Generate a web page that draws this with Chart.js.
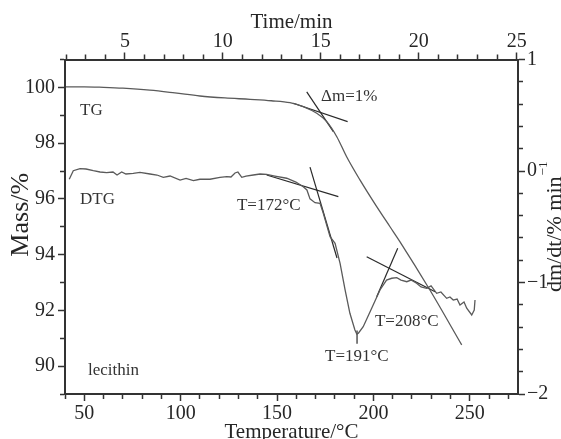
<!DOCTYPE html>
<html>
<head>
<meta charset="utf-8">
<script src="https://cdn.jsdelivr.net/npm/chart.js@4.4.1/dist/chart.umd.min.js"></script>
<style>
  html, body { margin: 0; padding: 0; background: #fff; }
  #wrap { width: 561px; height: 439px; position: relative; }
</style>
</head>
<body>
<div id="wrap"><canvas id="chart"></canvas></div>
<script>
// TG curve: temperature (°C) vs mass (%)
const tgTemp = [40.5, 50, 60, 70, 84, 97, 110, 123, 136, 147, 156.7, 163.6, 170.6, 175.8, 181, 186.1, 193, 201.7, 208.6, 213.8, 229.3, 245.8];
const tgMass = [100.02, 100.02, 100.0, 99.97, 99.9, 99.8, 99.69, 99.62, 99.57, 99.52, 99.45, 99.31, 99.07, 98.77, 98.23, 97.51, 96.68, 95.72, 95.0, 94.46, 92.73, 90.76];

// DTG curve: temperature (°C) vs dm/dt (%/min)
const dtgTemp = [42.2, 44.3, 47.8, 50.9, 54.7, 58.2, 61.6, 64.9, 67, 69.4, 71.6, 75.4, 78.9, 84.1, 87.7, 91, 94.5, 99.7, 102.8, 106.6,
  110, 115.2, 120.4, 123.9, 126.1, 128.2, 129.7, 131.7, 133.9, 137.7, 141.2, 144.6, 148.9, 155, 159.8, 163.6, 165.5, 167.1, 169.7, 172.3,
  174, 177.5, 180.1, 182.7, 185.3, 187.8, 190.4, 191.4, 192.2, 194.7, 199.1, 203.4, 206.8, 209.5, 212.1, 214.3, 217.3, 219.5, 222.4, 224.7,
  227.6, 229.9, 232.8, 235, 238, 239.7, 241.4, 243.4, 244.9, 247, 248.4, 251, 252.3, 252.7];
const dtgRate = [-0.074, 0.003, 0.021, 0.018, 0.003, -0.009, -0.015, -0.009, -0.036, -0.009, -0.027, -0.021, -0.013, -0.027, -0.036, -0.057, -0.045, -0.081, -0.067, -0.087,
  -0.074, -0.074, -0.057, -0.051, -0.054, -0.018, -0.009, -0.057, -0.045, -0.036, -0.027, -0.03, -0.045, -0.065, -0.099, -0.141, -0.17, -0.25, -0.284, -0.29,
  -0.379, -0.589, -0.648, -0.828, -1.067, -1.276, -1.426, -1.462, -1.455, -1.396, -1.231, -1.067, -0.978, -0.962, -0.957, -0.978, -0.993, -0.978, -1.007, -1.04,
  -1.052, -1.031, -1.097, -1.085, -1.142, -1.13, -1.157, -1.148, -1.202, -1.175, -1.231, -1.291, -1.247, -1.157];

// tangent construction lines (end points)
const tgFlatT = [158.4, 186.6], tgFlatM = [99.43, 98.77];
const tgSteepT = [165.4, 179.2], tgSteepM = [99.84, 98.41];
const onsetFlatT = [144.6, 181.8], onsetFlatR = [-0.036, -0.23];
const onsetSteepT = [167.1, 181.1], onsetSteepR = [0.035, -0.78];
const endRiseT = [201.7, 212.6], endRiseR = [-1.127, -0.693];
const endFlatT = [196.5, 232], endFlatR = [-0.769, -1.083];
const peakT = [191.5, 191.5], peakR = [-1.43, -1.55];

// axis ranges
const tempRange = [40, 275];
const timeRange = [1.94, 25.07];
const massRange = [89, 101];
const rateRange = [-2, 1];

// text notes: [text, temperature, value, axis]
const notes = [
  ['TG', 47.8, 99.01, 'y'],
  ['DTG', 47.8, 95.82, 'y'],
  ['lecithin', 51.9, 89.68, 'y'],
  ['\u0394m=1%', 172.8, 99.51, 'y'],
  ['T=172\u00b0C', 129.2, -0.35, 'y2'],
  ['T=191\u00b0C', 174.9, -1.704, 'y2'],
  ['T=208\u00b0C', 200.8, -1.39, 'y2']
];

const pts = (xs, ys) => xs.map((x, i) => ({ x: x, y: ys[i] }));
const FONT = "'Liberation Serif', 'Times New Roman', serif";
const INK = '#262626';
Chart.defaults.font.family = FONT;
Chart.defaults.color = INK;

function guide(xs, ys, axis) {
  return {
    data: pts(xs, ys), yAxisID: axis, showLine: true,
    borderColor: '#2a2a2a', borderWidth: 1.2, pointRadius: 0, tension: 0
  };
}

// minor ticks are shortened with a dash; top/left ticks are drawn from the outer end in
function tickDash(isMajor, fromOuter, len) {
  if (isMajor) return [];
  const minor = 4;
  return fromOuter ? [0, len - 1 - minor, minor + 2, 100] : [minor, 100];
}

// draws a rotated (bottom-to-top) title, with an optional superscript
function sideTitle(ctx, text, sup, x, y, size) {
  ctx.save();
  ctx.fillStyle = INK;
  ctx.textAlign = 'left';
  ctx.textBaseline = 'alphabetic';
  ctx.font = size + 'px ' + FONT;
  const w1 = ctx.measureText(text).width;
  ctx.font = '13px ' + FONT;
  const w2 = sup ? ctx.measureText(sup).width + 1 : 0;
  ctx.translate(x, y);
  ctx.rotate(-Math.PI / 2);
  const u = -(w1 + w2) / 2;
  ctx.font = size + 'px ' + FONT;
  ctx.fillText(text, u, 0);
  if (sup) {
    ctx.font = '13px ' + FONT;
    ctx.fillText(sup, u + w1 + 1, -14);
  }
  ctx.restore();
}

const notePlugin = {
  id: 'notes',
  afterDatasetsDraw(chart) {
    const ctx = chart.ctx;
    ctx.save();
    ctx.fillStyle = '#333';
    ctx.font = '17px ' + FONT;
    ctx.textAlign = 'left';
    ctx.textBaseline = 'alphabetic';
    notes.forEach(n => {
      const x = chart.scales.x.getPixelForValue(n[1]);
      const y = chart.scales[n[3]].getPixelForValue(n[2]);
      ctx.fillText(n[0], x, y);
    });
    ctx.restore();
  },
  afterDraw(chart) {
    const area = chart.chartArea;
    const mid = (area.top + area.bottom) / 2;
    sideTitle(chart.ctx, 'Mass/%', '', chart.scales.y.left + 28, mid - 12, 26);
    sideTitle(chart.ctx, 'dm/dt/% min', '\u22121', chart.scales.y2.right, mid, 22);
  }
};

const tickFont = { size: 20, family: FONT };
const titleFont = { size: 21, family: FONT, lineHeight: 1 };
const border = { color: '#333', width: 2 };

new Chart(document.getElementById('chart'), {
  type: 'scatter',
  data: {
    datasets: [
      { data: pts(tgTemp, tgMass), yAxisID: 'y', showLine: true, borderColor: '#5a5a5a', borderWidth: 1.3,
        pointRadius: 0, cubicInterpolationMode: 'monotone' },
      { data: pts(dtgTemp, dtgRate), yAxisID: 'y2', showLine: true, borderColor: '#5a5a5a', borderWidth: 1.3,
        pointRadius: 0, tension: 0 },
      guide(tgFlatT, tgFlatM, 'y'),
      guide(tgSteepT, tgSteepM, 'y'),
      guide(onsetFlatT, onsetFlatR, 'y2'),
      guide(onsetSteepT, onsetSteepR, 'y2'),
      guide(endRiseT, endRiseR, 'y2'),
      guide(endFlatT, endFlatR, 'y2'),
      guide(peakT, peakR, 'y2')
    ]
  },
  options: {
    responsive: true,
    maintainAspectRatio: false,
    animation: false,
    layout: { padding: 0 },
    plugins: { legend: { display: false }, tooltip: { enabled: false } },
    scales: {
      x: {
        type: 'linear', position: 'bottom', min: tempRange[0], max: tempRange[1],
        afterFit: s => { s.height = 45; },
        border: border,
        grid: { drawOnChartArea: false, tickLength: 7, tickColor: '#333', tickWidth: 1.5,
          tickBorderDash: c => tickDash(c.tick && c.tick.value % 50 === 0, false, 7) },
        ticks: { stepSize: 10, includeBounds: false, padding: 1, font: tickFont, color: INK, maxRotation: 0, autoSkip: false,
          callback: v => (v % 50 === 0 ? v : '') },
        title: { display: true, text: 'Temperature/\u00b0C', font: titleFont, color: INK, padding: { top: 0, bottom: -3.5 } }
      },
      top: {
        type: 'linear', axis: 'x', position: 'top', min: timeRange[0], max: timeRange[1],
        afterFit: s => { s.height = 59.5; },
        border: border,
        grid: { drawOnChartArea: false, tickLength: 7, tickColor: '#333', tickWidth: 1.5,
          tickBorderDash: c => tickDash(c.tick && Math.round(c.tick.value) % 5 === 0, true, 7) },
        ticks: { stepSize: 1, includeBounds: false, padding: -1, font: tickFont, color: INK, maxRotation: 0, autoSkip: false,
          callback: v => (Math.abs(v % 5) < 1e-6 ? v : '') },
        title: { display: true, text: 'Time/min', font: titleFont, color: INK, padding: { top: 11.5, bottom: 0 } }
      },
      y: {
        type: 'linear', position: 'left', min: massRange[0], max: massRange[1],
        afterFit: s => { s.width = 65; },
        border: border,
        grid: { drawOnChartArea: false, tickLength: 7, tickColor: '#333', tickWidth: 1.5,
          tickBorderDash: c => tickDash(c.tick && c.tick.value % 2 === 0, true, 7) },
        ticks: { stepSize: 1, includeBounds: false, padding: 3, font: tickFont, color: INK, autoSkip: false,
          callback: v => (v % 2 === 0 && v >= 90 && v <= 100 ? v : '') }
      },
      y2: {
        type: 'linear', position: 'right', min: rateRange[0], max: rateRange[1],
        afterFit: s => { s.width = 43; },
        border: border,
        grid: { drawOnChartArea: false, tickLength: 7, tickColor: '#333', tickWidth: 1.5,
          tickBorderDash: c => tickDash(c.tick && Math.abs(c.tick.value - Math.round(c.tick.value)) < 1e-6, false, 7) },
        ticks: { stepSize: 0.2, includeBounds: false, padding: 2, font: tickFont, color: INK, autoSkip: false,
          callback: v => {
            if (Math.abs(v - Math.round(v)) > 1e-6) return '';
            const r = Math.round(v);
            return r < 0 ? '\u2212' + Math.abs(r) : String(r);
          } }
      }
    }
  },
  plugins: [notePlugin]
});
</script>
</body>
</html>
